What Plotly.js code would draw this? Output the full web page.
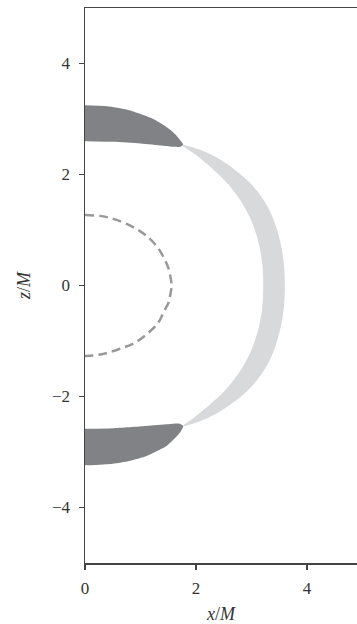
<!DOCTYPE html>
<html>
<head>
<meta charset="utf-8">
<script src="https://cdn.plot.ly/plotly-3.0.1.min.js"></script>
<style>html,body{margin:0;padding:0;background:#fff;}#plot{width:357px;height:624px;}</style>
</head>
<body>
<div id="plot"></div>
<script>
// Upper dark cap (x, z)
const capTopX = [0, 0.4, 0.75, 1.05, 1.23, 1.4, 1.53, 1.65, 1.73, 1.77, 1.72, 1.6, 1.4, 1.0, 0.5, 0];
const capTopZ = [3.25, 3.23, 3.17, 3.07, 3.0, 2.9, 2.81, 2.70, 2.60, 2.54, 2.50, 2.50, 2.52, 2.56, 2.59, 2.60];
// Lower dark cap
const capBotX = [0, 0.5, 1.1, 1.5, 1.7, 1.77, 1.73, 1.65, 1.47, 1.3, 1.11, 0.8, 0.5, 0];
const capBotZ = [-2.58, -2.57, -2.53, -2.50, -2.49, -2.53, -2.62, -2.72, -2.89, -2.98, -3.07, -3.16, -3.21, -3.24];
// Light crescent: outer edge top->bottom, inner edge bottom->top
const crescentX = [1.76, 2.06, 2.38, 2.68, 3.02, 3.30, 3.46, 3.57, 3.60, 3.57, 3.46, 3.30, 3.02, 2.68, 2.38, 2.06, 1.77,
                   2.00, 2.30, 2.60, 2.88, 3.06, 3.18, 3.21, 3.18, 3.06, 2.88, 2.60, 2.30, 2.00, 1.76];
const crescentZ = [2.53, 2.45, 2.30, 2.10, 1.80, 1.40, 1.00, 0.50, 0, -0.50, -1.00, -1.40, -1.80, -2.10, -2.30, -2.45, -2.53,
                   -2.35, -2.10, -1.80, -1.40, -1.00, -0.50, 0, 0.50, 1.00, 1.40, 1.80, 2.10, 2.35, 2.53];
// Dashed curve
const horizonX = [0, 0.3, 0.51, 0.75, 0.99, 1.17, 1.32, 1.43, 1.50, 1.54, 1.56, 1.54, 1.50, 1.42, 1.32, 1.13, 0.90, 0.63, 0.3, 0];
const horizonZ = [1.27, 1.25, 1.20, 1.11, 0.98, 0.84, 0.67, 0.48, 0.32, 0.15, 0, -0.15, -0.32, -0.47, -0.67, -0.86, -1.03, -1.14, -1.24, -1.27];

const xTicks = [0, 2, 4];
const zTicks = [-4, -2, 0, 2, 4];

const DARK = '#808286';
const LIGHT = '#d8d9db';

const traces = [
  {x: crescentX, y: crescentZ, mode: 'lines', fill: 'toself', fillcolor: LIGHT, line: {width: 0, color: LIGHT, shape: 'spline', smoothing: 1}, hoverinfo: 'skip'},
  {x: capTopX, y: capTopZ, mode: 'lines', fill: 'toself', fillcolor: DARK, line: {width: 0, color: DARK, shape: 'spline', smoothing: 0.6}, hoverinfo: 'skip'},
  {x: capBotX, y: capBotZ, mode: 'lines', fill: 'toself', fillcolor: DARK, line: {width: 0, color: DARK, shape: 'spline', smoothing: 0.6}, hoverinfo: 'skip'},
  {x: horizonX, y: horizonZ, mode: 'lines', line: {width: 2.5, color: '#999999', dash: '9px,5px', shape: 'spline', smoothing: 1}, hoverinfo: 'skip'}
];

const fontFam = '"Liberation Serif", "DejaVu Serif", serif';
const layout = {
  width: 357, height: 624,
  margin: {l: 85, r: 0, t: 8, b: 61},
  paper_bgcolor: '#fff', plot_bgcolor: '#fff',
  showlegend: false,
  font: {family: fontFam, size: 17, color: '#333'},
  xaxis: {
    range: [0, 4.9], tickvals: xTicks, ticktext: xTicks.map(String),
    showgrid: false, zeroline: false, showline: true, mirror: true,
    linecolor: '#444', linewidth: 1.5, ticks: 'outside', ticklen: 5, tickwidth: 1.5, tickcolor: '#444',
    ticklabelstandoff: 4,
    tickfont: {family: fontFam, size: 17, color: '#333'},
    title: {text: '<i>x</i>/<i>M</i>', font: {family: fontFam, size: 18, color: '#333'}, standoff: 10}
  },
  yaxis: {
    range: [-5, 5], tickvals: zTicks, ticktext: zTicks.map(v => v < 0 ? '\u2212' + Math.abs(v) : String(v)),
    showgrid: false, zeroline: false, showline: true, mirror: false,
    linecolor: '#444', linewidth: 1.5, ticks: 'outside', ticklen: 5, tickwidth: 1.5, tickcolor: '#444',
    ticklabelstandoff: 5,
    tickfont: {family: fontFam, size: 17, color: '#333'},
    title: {text: '<i>z</i>/<i>M</i>', font: {family: fontFam, size: 18, color: '#333'}, standoff: 16}
  }
};

Plotly.newPlot('plot', traces, layout, {displayModeBar: false, staticPlot: true});
</script>
</body>
</html>
